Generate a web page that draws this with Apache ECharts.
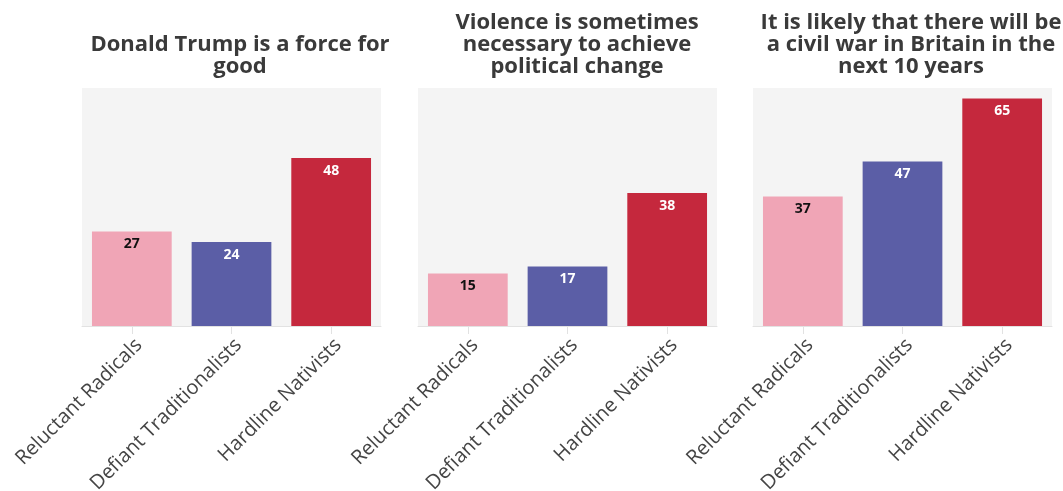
<!DOCTYPE html>
<html><head><meta charset="utf-8">
<script src="https://cdn.jsdelivr.net/npm/echarts@6/dist/echarts.min.js"></script>
<style>html,body{margin:0;padding:0;background:#fff}#c{width:1063px;height:491px}</style>
</head><body><div id="c"></div>
<script>
const categories = ['Reluctant Radicals', 'Defiant Traditionalists', 'Hardline Nativists'];
const titles = ['Donald Trump is a force for\ngood', 'Violence is sometimes\nnecessary to achieve\npolitical change', 'It is likely that there will be\na civil war in Britain in the\nnext 10 years'];
const forceForGood = [27, 24, 48];
const violenceNecessary = [15, 17, 38];
const civilWarLikely = [37, 47, 65];
const groupColors = ['#F0A5B6', '#5B5EA6', '#C5283D'];
const labelColors = ['#111111', '#ffffff', '#ffffff'];

const panels = [forceForGood, violenceNecessary, civilWarLikely];
const gridLefts = [82, 418, 753];
const titleCenters = [235, 572, 906];
const FONT = '"Open Sans", "Noto Sans", sans-serif';

const chart = echarts.init(document.getElementById('c'), null, {renderer: 'canvas'});
const option = {
  animation: false,
  backgroundColor: '#ffffff',
  title: titles.map((t, i) => ({
    text: t,
    left: titleCenters[i],
    bottom: 491 - 83,
    textAlign: 'center',
    textStyle: {fontFamily: FONT, fontWeight: 'bold', fontSize: 22, lineHeight: 22, color: '#3a3a3a'}
  })),
  grid: gridLefts.map(l => ({
    left: l, width: 299, top: 88, height: 238,
    show: true, backgroundColor: '#f4f4f4', borderWidth: 0, containLabel: false,
    outerBoundsMode: 'none'
  })),
  xAxis: panels.map((p, i) => ({
    type: 'category', gridIndex: i, data: categories,
    axisLine: {show: true, lineStyle: {color: '#e2e2e2', width: 1}},
    axisTick: {show: true, alignWithLabel: true, length: 8, lineStyle: {color: '#e2e2e2'}},
    axisLabel: {rotate: 45, interval: 0, margin: 9, verticalAlign: 'top', fontFamily: FONT, fontSize: 20, color: '#454545'}
  })),
  yAxis: panels.map((p, i) => ({
    type: 'value', gridIndex: i, min: 0, max: 68, show: false, splitLine: {show: false}
  })),
  series: panels.map((vals, i) => ({
    type: 'bar', xAxisIndex: i, yAxisIndex: i, barCategoryGap: '20%',
    data: vals.map((v, j) => ({
      value: v,
      itemStyle: {color: groupColors[j]},
      label: {color: labelColors[j]}
    })),
    label: {show: true, position: 'insideTop', distance: 6, fontFamily: FONT, fontWeight: 'bold', fontSize: 14}
  }))
};
chart.setOption(option);
</script></body></html>
